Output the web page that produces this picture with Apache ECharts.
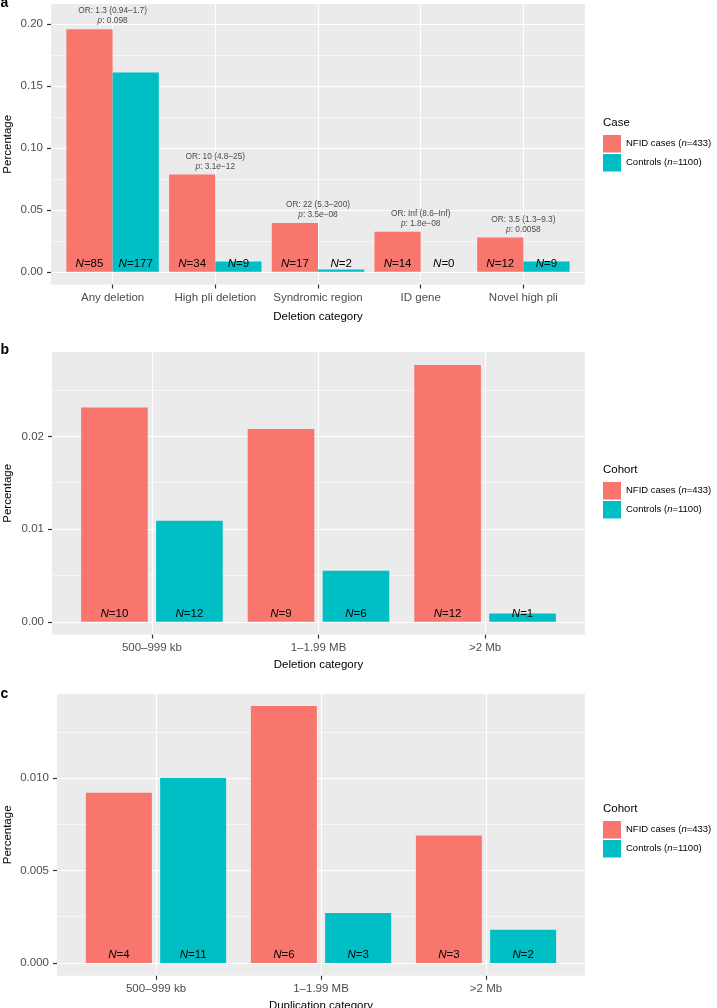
<!DOCTYPE html>
<html><head><meta charset="utf-8">
<script src="https://cdn.jsdelivr.net/npm/echarts@6/dist/echarts.min.js"></script>
<style>html,body{margin:0;padding:0;background:#fff}#c{width:717px;height:1008px}</style>
</head><body><div id="c"></div>
<script>
// ---------- data ----------
const seriesNames = ['NFID cases (n=433)', 'Controls (n=1100)'];

// Panel a
const catsA = ['Any deletion', 'High pli deletion', 'Syndromic region', 'ID gene', 'Novel high pli'];
const casesA = [0.196, 0.0785, 0.0393, 0.0323, 0.0277];
const controlsA = [0.161, 0.0082, 0.0018, 0, 0.0082];
const nCasesA = [85, 34, 17, 14, 12];
const nControlsA = [177, 9, 2, 0, 9];
const orA = ['1.3 (0.94–1.7)', '10 (4.8–25)', '22 (5.3–200)', 'Inf (8.6–Inf)', '3.5 (1.3–9.3)'];
const pA = ['0.098', '3.1e−12', '3.5e−08', '1.8e−08', '0.0058'];
const yTicksA = [0, 0.05, 0.10, 0.15, 0.20];
const yMinorA = [0.025, 0.075, 0.125, 0.175];

// Panel b
const catsB = ['500–999 kb', '1–1.99 MB', '>2 Mb'];
const casesB = [0.0231, 0.0208, 0.0277];
const controlsB = [0.0109, 0.0055, 0.0009];
const nCasesB = [10, 9, 12];
const nControlsB = [12, 6, 1];
const yTicksB = [0, 0.01, 0.02];
const yMinorB = [0.005, 0.015, 0.025];

// Panel c
const catsC = ['500–999 kb', '1–1.99 MB', '>2 Mb'];
const casesC = [0.0092, 0.0139, 0.0069];
const controlsC = [0.0100, 0.0027, 0.0018];
const nCasesC = [4, 6, 3];
const nControlsC = [11, 3, 2];
const yTicksC = [0, 0.005, 0.010];
const yMinorC = [0.0025, 0.0075, 0.0125];

// ---------- styles / layout ----------
const FONT = '"Liberation Sans", Arial, Helvetica, sans-serif';
const colors = ['#F8766D', '#00BFC4'];
const panels = [
  {tag:'a', cats:catsA, cases:casesA, controls:controlsA, nCases:nCasesA, nControls:nControlsA,
   yTicks:yTicksA, yMinor:yMinorA, dec:2, min:-0.0103, max:0.2163,
   left:51, top:4, height:280.5, barWidth:'45%', barGap:'0%', xName:'Deletion category',
   xNameGap:26, yNameGap:37, legendTitle:'Case', legendTitleTop:116.5, legendTop:135, tagTop:-4},
  {tag:'b', cats:catsB, cases:casesB, controls:controlsB, nCases:nCasesB, nControls:nControlsB,
   yTicks:yTicksB, yMinor:yMinorB, dec:2, min:-0.001386, max:0.0291,
   left:52, top:352, height:282.6, barWidth:'40%', barGap:'12.5%', xName:'Deletion category',
   xNameGap:24, yNameGap:38, legendTitle:'Cohort', legendTitleTop:463.5, legendTop:482, tagTop:343},
  {tag:'c', cats:catsC, cases:casesC, controls:controlsC, nCases:nCasesC, nControls:nControlsC,
   yTicks:yTicksC, yMinor:yMinorC, dec:3, min:-0.000693, max:0.01455,
   left:57, top:694, height:281.7, barWidth:'40%', barGap:'12.5%', xName:'Duplication category',
   xNameGap:24, yNameGap:43, legendTitle:'Cohort', legendTitleTop:802.5, legendTop:821, tagTop:687}
];

const option = {animation:false, textStyle:{fontFamily:FONT},
  grid:[], xAxis:[], yAxis:[], series:[], legend:[], title:[], graphic:[]};

panels.forEach((p, k) => {
  const idx = p.cats.map((_, i) => i);
  option.grid.push({left:p.left, right:132, top:p.top, height:p.height, show:true,
    backgroundColor:'#EBEBEB', borderWidth:0, containLabel:false, outerBoundsMode:'none'});
  option.xAxis.push({type:'value', gridIndex:k, min:-0.6, max:p.cats.length - 1 + 0.6,
    position:'bottom',
    name:p.xName, nameLocation:'middle', nameGap:p.xNameGap, nameMoveOverlap:false,
    nameTextStyle:{fontSize:11.5, color:'#000', fontFamily:FONT},
    axisLine:{show:true, onZero:false, lineStyle:{color:'rgba(0,0,0,0)', width:0}},
    axisTick:{show:true, length:4, lineStyle:{color:'#333', width:1.2}, customValues:idx},
    axisLabel:{customValues:idx, formatter:v => p.cats[Math.round(v)], fontSize:11.5, color:'#4D4D4D', margin:7.5, fontFamily:FONT},
    splitLine:{show:true, lineStyle:{color:'#fff', width:1.1}, customValues:idx}});
  option.yAxis.push({type:'value', gridIndex:k, min:p.min, max:p.max, position:'left',
    name:'Percentage', nameLocation:'middle', nameGap:p.yNameGap, nameMoveOverlap:false,
    nameTextStyle:{fontSize:11.5, color:'#000', fontFamily:FONT},
    axisLine:{show:true, onZero:false, lineStyle:{color:'rgba(0,0,0,0)', width:0}},
    axisTick:{show:true, length:4, lineStyle:{color:'#333', width:1.2}, customValues:p.yTicks},
    axisLabel:{customValues:p.yTicks, formatter:v => v.toFixed(p.dec), fontSize:11.5, color:'#4D4D4D', margin:8, fontFamily:FONT},
    splitLine:{show:true, lineStyle:{color:'#fff', width:1.1}, customValues:p.yTicks}});
  option.yAxis.push({type:'value', gridIndex:k, min:p.min, max:p.max, position:'left',
    axisLine:{show:false, onZero:false}, axisTick:{show:false, customValues:p.yMinor},
    axisLabel:{show:false, customValues:p.yMinor},
    splitLine:{show:true, lineStyle:{color:'#fff', width:0.55}, customValues:p.yMinor}});

  const mkLabel = arr => ({show:true, position:'insideBottom', distance:2,
    formatter:prm => '{i|N}=' + arr[prm.dataIndex], fontSize:11.5, color:'#000', fontFamily:FONT,
    rich:{i:{fontStyle:'italic', fontSize:11.5, color:'#000', fontFamily:FONT}}});
  option.series.push({type:'bar', name:seriesNames[0], xAxisIndex:k, yAxisIndex:2*k,
    data:idx.map(i => [i, p.cases[i]]), barWidth:p.barWidth, barGap:p.barGap,
    itemStyle:{color:colors[0]}, label:mkLabel(p.nCases)});
  option.series.push({type:'bar', name:seriesNames[1], xAxisIndex:k, yAxisIndex:2*k,
    data:idx.map(i => [i, p.controls[i]]), barWidth:p.barWidth, barGap:p.barGap,
    itemStyle:{color:colors[1]}, label:mkLabel(p.nControls)});

  option.legend.push({data:seriesNames, orient:'vertical', left:603, top:p.legendTop,
    itemWidth:18, itemHeight:17.5, itemGap:1.5, padding:0, icon:'rect', selectedMode:false,
    formatter:name => name.replace('(n=', '({i|n}='),
    textStyle:{fontSize:9.5, color:'#000', fontFamily:FONT,
      rich:{i:{fontStyle:'italic', fontSize:9.5, color:'#000', fontFamily:FONT}}}});
  option.title.push({text:p.legendTitle, left:603, top:p.legendTitleTop, padding:0,
    textStyle:{fontSize:11.5, fontWeight:'normal', color:'#000', fontFamily:FONT}});
  option.graphic.push({type:'text', left:0.5, top:p.tagTop,
    style:{text:p.tag, font:'bold 14px ' + FONT, fill:'#000'}});
});

// odds-ratio annotations in panel a
option.series.push({type:'scatter', xAxisIndex:0, yAxisIndex:0, symbolSize:0, silent:true,
  data:catsA.map((_, i) => [i, casesA[i]]),
  label:{show:true, position:'top', distance:3,
    formatter:prm => 'OR: ' + orA[prm.dataIndex] + '\n{i|p}: ' + pA[prm.dataIndex].replace('e', '{i|e}'),
    fontSize:8.3, lineHeight:10, color:'#1a1a1a', fontFamily:FONT,
    rich:{i:{fontStyle:'italic', fontSize:8.3, lineHeight:10, color:'#1a1a1a', fontFamily:FONT}}}});

const chart = echarts.init(document.getElementById('c'), null, {renderer:'canvas'});
chart.setOption(option);
</script></body></html>
